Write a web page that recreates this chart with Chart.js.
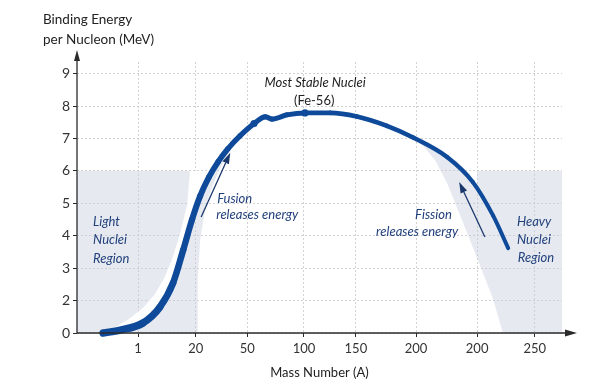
<!DOCTYPE html>
<html><head><meta charset="utf-8">
<script src="https://cdn.jsdelivr.net/npm/chart.js@4.4.1/dist/chart.umd.min.js"></script>
<style>html,body{margin:0;padding:0;background:#fff;}#wrap{width:611px;height:389px;position:relative;}</style>
</head><body><div id="wrap"><canvas id="c"></canvas></div>
<script>
// ---- tick labels (x axis is drawn in axis-position units 0..100) ----
const xTickLabels = ['1','20','50','100','150','200','200','250'];
const xTickPos    = [12.6, 24.5, 35.1, 46.8, 57.5, 69.9, 82.5, 94.4];
const yTickLabels = ['0','2','3','4','5','6','7','8','9'];
const yTickVals   = [0, 2, 3, 4, 5, 6, 7, 8, 9];

// ---- binding energy curve (x: axis position, y: MeV as read on the axis) ----
const curveX = [5.4, 8.9, 13.6, 17.1, 19.8, 21.9, 23.7, 25.4, 27.2, 29.1, 31.1, 33.6, 36.5, 38.8, 40.2, 43.3, 47.0, 52.2, 57.7, 63.9, 69.3, 76.3, 81.6, 85.8, 88.9];
const curveY = [0, 0.18, 0.62, 1.60, 2.54, 3.56, 4.49, 5.23, 5.81, 6.28, 6.68, 7.08, 7.46, 7.67, 7.60, 7.73, 7.79, 7.79, 7.68, 7.39, 7.03, 6.43, 5.66, 4.62, 3.62];

// marked nuclei
const markX = [36.5, 47.0];
const markY = [7.46, 7.79];

// ---- shaded regions (outlines) ----
const lightX = [0, 0, 27.6, 29.1, 31.1, 32.3, 29.9, 27.8, 26.4, 25.4, 24.9, 24.9];
const lightY = [0, 6, 6, 6.28, 6.68, 6.84, 6.20, 5.50, 4.80, 3.87, 2.64, 0];
const bandX  = [23.3, 22.7, 21.3, 19.7, 18.1, 16.1, 13.8, 11.0, 8.0, 4.7, 8.9, 13.6, 17.1, 19.8, 21.9, 23.7, 25.4, 27.6];
const bandY  = [6.0, 4.95, 4.09, 3.31, 2.73, 2.20, 1.60, 0.93, 0.37, 0, 0.18, 0.62, 1.60, 2.54, 3.56, 4.49, 5.23, 6.0];
const heavyX = [70.3, 72.8, 76.3, 80.0, 82.5, 82.5, 100, 100, 87.8, 85.8, 83.7, 79.6, 76.3, 73.8];
const heavyY = [6.96, 6.74, 6.43, 5.88, 5.41, 6.0, 6.0, 0, 0, 2.04, 2.85, 4.40, 5.63, 6.34];

// ---- helpers ----
const toIdx = v => v <= 2 ? v / 2 : v - 1;           // axis has 0,2,3,...,9 evenly spaced
const pts = (xs, ys) => xs.map((x, i) => ({x: x, y: toIdx(ys[i])}));

const BLUE = '#0f4a9a', TXTBLUE = '#22417c', ARROW = '#1b386c', REGION = 'rgba(196,204,220,0.42)';
const FONT = 'Lato, "Open Sans", sans-serif';

const notes = {
  arrows: [ {from: [25.6, 4.58], to: [31.6, 6.56]}, {from: [84.1, 3.96], to: [78.8, 5.66]} ],
  texts: [
    {t: 'Most Stable Nuclei', x: 49.1, y: 8.72, align: 'center', style: 'italic', color: '#222'},
    {t: '(Fe-56)', x: 48.9, y: 8.16, align: 'center', style: 'normal', color: '#222'},
    {t: 'Fusion', x: 28.9, y: 5.14, align: 'left', style: 'italic', color: TXTBLUE},
    {t: 'releases energy', x: 28.7, y: 4.64, align: 'left', style: 'italic', color: TXTBLUE},
    {t: 'Light', x: 3.3, y: 4.43, align: 'left', style: 'italic', color: TXTBLUE},
    {t: 'Nuclei', x: 3.3, y: 3.87, align: 'left', style: 'italic', color: TXTBLUE},
    {t: 'Region', x: 3.3, y: 3.28, align: 'left', style: 'italic', color: TXTBLUE},
    {t: 'Fission', x: 77.3, y: 4.64, align: 'right', style: 'italic', color: TXTBLUE},
    {t: 'releases energy', x: 78.6, y: 4.12, align: 'right', style: 'italic', color: TXTBLUE},
    {t: 'Heavy', x: 90.7, y: 4.43, align: 'left', style: 'italic', color: TXTBLUE},
    {t: 'Nuclei', x: 90.7, y: 3.87, align: 'left', style: 'italic', color: TXTBLUE},
    {t: 'Region', x: 90.9, y: 3.31, align: 'left', style: 'italic', color: TXTBLUE}
  ]
};

function arrowHead(ctx, x1, y1, x2, y2, len, w) {
  const a = Math.atan2(y2 - y1, x2 - x1);
  const bx = x2 - len * Math.cos(a), by = y2 - len * Math.sin(a);
  ctx.beginPath(); ctx.moveTo(x1, y1); ctx.lineTo(bx, by); ctx.stroke();
  ctx.beginPath(); ctx.moveTo(x2, y2);
  ctx.lineTo(bx + w * Math.sin(a), by - w * Math.cos(a));
  ctx.lineTo(bx - w * Math.sin(a), by + w * Math.cos(a));
  ctx.closePath(); ctx.fill();
}

const overlay = {
  id: 'overlay',
  afterDraw(chart) {
    const {ctx, chartArea: a, scales: {x, y}} = chart;
    const px = v => x.getPixelForValue(v), py = v => y.getPixelForValue(toIdx(v));
    ctx.save();
    ctx.strokeStyle = '#2b2b2b'; ctx.fillStyle = '#2b2b2b'; ctx.lineWidth = 1.3;
    arrowHead(ctx, a.left, a.bottom, a.right + 15, a.bottom, 12, 3.5);
    arrowHead(ctx, a.left, a.bottom, a.left, a.top - 12, 11, 3);
    ctx.strokeStyle = ARROW; ctx.fillStyle = ARROW; ctx.lineWidth = 1.3;
    notes.arrows.forEach(r => arrowHead(ctx, px(r.from[0]), py(r.from[1]), px(r.to[0]), py(r.to[1]), 11, 3.5));
    ctx.textBaseline = 'middle';
    notes.texts.forEach(s => {
      ctx.font = s.style + ' 13px ' + FONT; ctx.fillStyle = s.color; ctx.textAlign = s.align;
      ctx.fillText(s.t, px(s.x), py(s.y));
    });
    ctx.font = '13.5px ' + FONT; ctx.fillStyle = '#222'; ctx.textAlign = 'left'; ctx.textBaseline = 'alphabetic';
    ctx.fillText('Binding Energy', a.left - 34, 24);
    ctx.fillText('per Nucleon (MeV)', a.left - 34, 44);
    ctx.restore();
  }
};

function widthAt(xv) {
  if (xv <= 12) return 7.5;
  if (xv <= 30) return 7.5 - 2.0 * (xv - 12) / 18;
  if (xv <= 50) return 5.5 - 0.7 * (xv - 30) / 20;
  return Math.max(4.0, 4.8 - 0.8 * (xv - 50) / 39);
}

new Chart(document.getElementById('c'), {
  type: 'line',
  data: {
    datasets: [
      {data: pts(markX, markY), showLine: false, pointRadius: 3.6, pointBackgroundColor: BLUE, pointBorderWidth: 0},
      {data: pts(curveX, curveY), borderColor: BLUE, borderWidth: 5, pointRadius: 0, cubicInterpolationMode: 'monotone',
       borderCapStyle: 'round', borderJoinStyle: 'round', fill: false, clip: 8,
       segment: {borderWidth: c => widthAt((c.p0.parsed.x + c.p1.parsed.x) / 2)}},
      {data: pts(bandX, bandY), borderWidth: 0, pointRadius: 0, fill: 'shape', backgroundColor: '#ffffff'},
      {data: pts(heavyX, heavyY), borderWidth: 0, pointRadius: 0, fill: 'shape', backgroundColor: REGION},
      {data: pts(lightX, lightY), borderWidth: 0, pointRadius: 0, fill: 'shape', backgroundColor: REGION}
    ]
  },
  options: {
    responsive: true, maintainAspectRatio: false, animation: false,
    layout: {padding: {top: 62, right: 49, left: 0, bottom: 0}},
    plugins: {legend: {display: false}, tooltip: {enabled: false}},
    scales: {
      x: {
        type: 'linear', min: 0, max: 100,
        afterBuildTicks: s => { s.ticks = xTickPos.map(v => ({value: v})); },
        afterFit: s => { s.height = 56; },
        ticks: {autoSkip: false, maxRotation: 0, padding: 4, color: '#333', font: {family: FONT, size: 13},
                callback: (v, i) => xTickLabels[i]},
        grid: {color: '#d2d2d2', lineWidth: 1, tickColor: '#2b2b2b', tickLength: 4},
        border: {display: false, dash: [2, 2]},
        title: {display: true, text: 'Mass Number (A)', color: '#222', font: {family: FONT, size: 13}, padding: {top: 0, bottom: 8}}
      },
      y: {
        type: 'linear', min: 0, max: 8.36,
        afterBuildTicks: s => { s.ticks = yTickVals.map(v => ({value: toIdx(v)})); },
        afterFit: s => { s.width = 77; },
        ticks: {autoSkip: false, padding: 3, color: '#333', font: {family: FONT, size: 14},
                callback: (v, i) => yTickLabels[i]},
        grid: {color: '#d2d2d2', lineWidth: 1, tickColor: '#2b2b2b', tickLength: 4},
        border: {display: false, dash: [2, 2]}
      }
    }
  },
  plugins: [overlay]
});
</script>
</body></html>
